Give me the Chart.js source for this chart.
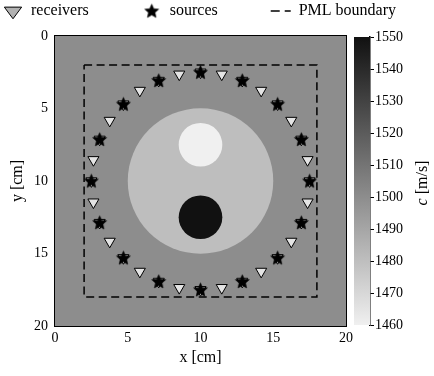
<!DOCTYPE html>
<html>
<head>
<meta charset="utf-8">
<script src="https://cdn.jsdelivr.net/npm/chart.js@4/dist/chart.umd.min.js"></script>
<style>
html, body { margin: 0; padding: 0; background: #ffffff; }
#wrap { position: relative; width: 434px; height: 376px; }
#main { position: absolute; left: 0; top: 0; }
#cbar { position: absolute; left: 340px; top: 0; }
</style>
</head>
<body>
<div id="wrap">
  <canvas id="main" width="434" height="376"></canvas>
  <canvas id="cbar" width="94" height="376"></canvas>
</div>
<script>
// ---------------- data ----------------
const receiverX = [10, 11.46, 12.87, 14.17, 15.3, 16.24, 16.93, 17.36, 17.5, 17.36, 16.93, 16.24, 15.3, 14.17, 12.87, 11.46,
                   10, 8.54, 7.13, 5.83, 4.7, 3.76, 3.07, 2.64, 2.5, 2.64, 3.07, 3.76, 4.7, 5.83, 7.13, 8.54];
const receiverY = [2.5, 2.64, 3.07, 3.76, 4.7, 5.83, 7.13, 8.54, 10, 11.46, 12.87, 14.17, 15.3, 16.24, 16.93, 17.36,
                   17.5, 17.36, 16.93, 16.24, 15.3, 14.17, 12.87, 11.46, 10, 8.54, 7.13, 5.83, 4.7, 3.76, 3.07, 2.64];
const sourceX = [10, 12.87, 15.3, 16.93, 17.5, 16.93, 15.3, 12.87, 10, 7.13, 4.7, 3.07, 2.5, 3.07, 4.7, 7.13];
const sourceY = [2.5, 3.07, 4.7, 7.13, 10, 12.87, 15.3, 16.93, 17.5, 16.93, 15.3, 12.87, 10, 7.13, 4.7, 3.07];
const pmlX = [2, 18, 18, 2, 2];
const pmlY = [2, 2, 18, 18, 2];
const backgroundSpeed = 1500;
const inclusionX = [10, 10, 10];
const inclusionY = [10, 7.5, 12.5];
const inclusionRadius = [5, 1.5, 1.5];
const inclusionSpeed = [1480, 1460, 1550];
const axisTicks = [0, 5, 10, 15, 20];
const speedTicks = [1460, 1470, 1480, 1490, 1500, 1510, 1520, 1530, 1540, 1550];
const speedMin = 1460;
const speedMax = 1550;
const legendLabels = ['receivers', 'sources', 'PML boundary'];

// ---------------- helpers ----------------
const FONT = "'Liberation Serif', 'DejaVu Serif', serif";
function gray(v) {
  const t = Math.min(1, Math.max(0, (v - speedMin) / (speedMax - speedMin)));
  const g = Math.round(240 - t * (240 - 17));
  return 'rgb(' + g + ',' + g + ',' + g + ')';
}
function makeStar(R, r, color) {
  const s = Math.ceil(R * 2 + 2);
  const c = document.createElement('canvas');
  c.width = s; c.height = s;
  const g = c.getContext('2d');
  g.beginPath();
  for (let i = 0; i < 10; i++) {
    const a = -Math.PI / 2 + i * Math.PI / 5;
    const rad = (i % 2) ? r : R;
    g.lineTo(s / 2 + rad * Math.cos(a), s / 2 + rad * Math.sin(a) + 0.5);
  }
  g.closePath();
  g.fillStyle = color; g.fill();
  g.lineWidth = 0.6; g.strokeStyle = color; g.stroke();
  return c;
}
const starImg = makeStar(7.3, 3.4, '#000000');

const receivers = receiverX.map((x, i) => ({ x: x, y: receiverY[i] }));
const sources = sourceX.map((x, i) => ({ x: x, y: sourceY[i] }));
const pml = pmlX.map((x, i) => ({ x: x, y: pmlY[i] }));
const inclusions = inclusionX.map((x, i) => ({ x: x, y: inclusionY[i], rad: inclusionRadius[i], speed: inclusionSpeed[i] }));

const mediumPlugin = {
  id: 'medium',
  beforeDatasetsDraw(chart) {
    const { ctx, scales: { x, y } } = chart;
    const x0 = x.getPixelForValue(0), x1 = x.getPixelForValue(20);
    const y0 = y.getPixelForValue(0), y1 = y.getPixelForValue(20);
    ctx.save();
    ctx.fillStyle = gray(backgroundSpeed);
    ctx.fillRect(Math.min(x0, x1), Math.min(y0, y1), Math.abs(x1 - x0), Math.abs(y1 - y0));
    ctx.restore();
  },
  afterDatasetsDraw(chart) {
    const { ctx, chartArea: a } = chart;
    ctx.save();
    ctx.strokeStyle = '#000';
    ctx.lineWidth = 1;
    ctx.strokeRect(a.left - 0.5, a.top - 0.5, a.right - a.left + 1, a.bottom - a.top + 1);
    ctx.restore();
  }
};

const legendTweak = {
  id: 'legendTweak',
  beforeInit(chart) {
    const lg = chart.legend;
    if (!lg) return;
    const fit = lg.fit;
    lg.fit = function () {
      this.maxWidth = 3000;
      fit.call(this);
      this.width = chart.width;
      this.height = 36;
    };
  },
  afterLayout(chart) {
    const lg = chart.legend;
    if (!lg) return;
    const P = lg.options.labels.padding;
    lg.left = 3 - P; lg.right = 3000;
    lg.top = 3 - P; lg.bottom = 36;
    lg.width = lg.right - lg.left; lg.height = lg.bottom - lg.top;
  }
};

new Chart(document.getElementById('main'), {
  type: 'scatter',
  data: {
    datasets: [
      {
        label: legendLabels[1], data: sources, pointStyle: starImg, pointRadius: 7,
        backgroundColor: '#000', borderColor: '#000', order: 1
      },
      {
        label: legendLabels[0], data: receivers, pointStyle: 'triangle', rotation: 180, pointRadius: 6.4,
        backgroundColor: '#e4e4e4', borderColor: '#000', pointBorderWidth: 1, order: 2
      },
      {
        label: legendLabels[2], data: pml, showLine: true, borderColor: '#000', borderWidth: 1.5,
        borderDash: [8, 4.5], pointRadius: 0, fill: false, order: 3
      },
      {
        label: 'medium', data: inclusions, pointStyle: 'circle', borderWidth: 0, pointBorderWidth: 0,
        pointRadius: (c) => {
          if (!c.raw) return 0;
          const s = c.chart.scales.x;
          return Math.abs(s.getPixelForValue(c.raw.rad) - s.getPixelForValue(0));
        },
        backgroundColor: (c) => c.raw ? gray(c.raw.speed) : '#000',
        order: 4
      }
    ]
  },
  options: {
    responsive: false,
    animation: false,
    events: [],
    layout: { padding: { left: 0, right: 88, top: 0, bottom: 0 } },
    scales: {
      x: {
        type: 'linear', min: 0, max: 20,
        afterBuildTicks: (s) => { s.ticks = axisTicks.map(v => ({ value: v })); },
        afterFit: (s) => { s.height = 50; },
        grid: { display: false, drawTicks: false },
        border: { display: false },
        ticks: { font: { family: FONT, size: 14 }, color: '#000', padding: 4, maxRotation: 0, callback: (v) => String(v) },
        title: { display: true, text: 'x [cm]', font: { family: FONT, size: 16 }, color: '#000', padding: { top: 0, bottom: 9 } }
      },
      y: {
        type: 'linear', min: 0, max: 20, reverse: true,
        afterBuildTicks: (s) => { s.ticks = axisTicks.map(v => ({ value: v })); },
        afterFit: (s) => { s.width = 55; },
        grid: { display: false, drawTicks: false },
        border: { display: false },
        ticks: { font: { family: FONT, size: 14 }, color: '#000', padding: 7, callback: (v) => String(v) },
        title: { display: true, text: 'y [cm]', font: { family: FONT, size: 16 }, color: '#000', padding: { top: 8, bottom: 0 } }
      }
    },
    plugins: {
      tooltip: { enabled: false },
      legend: {
        display: true, position: 'top', align: 'start',
        labels: {
          padding: 53, usePointStyle: true, pointStyleWidth: 20, boxHeight: 11,
          font: { family: FONT, size: 16 }, color: '#000',
          generateLabels: () => [
            { text: legendLabels[0], pointStyle: 'triangle', rotation: 180, fillStyle: '#b2b2b2', strokeStyle: '#000',
              lineWidth: 1, hidden: false, datasetIndex: 1, fontColor: '#000' },
            { text: legendLabels[1], pointStyle: starImg, rotation: 0, fillStyle: '#000', strokeStyle: '#000',
              lineWidth: 0, hidden: false, datasetIndex: 0, fontColor: '#000' },
            { text: legendLabels[2], pointStyle: 'line', rotation: 0, fillStyle: '#000', strokeStyle: '#000',
              lineWidth: 1.5, lineDash: [9, 5], hidden: false, datasetIndex: 2, fontColor: '#000' }
          ]
        }
      }
    }
  },
  plugins: [mediumPlugin, legendTweak]
});

// ---------------- colour bar ----------------
const cbarTitle = {
  id: 'cbarTitle',
  afterDraw(chart) {
    const ctx = chart.ctx;
    const a = chart.chartArea;
    ctx.save();
    ctx.translate(83, (a.top + a.bottom) / 2 + 2);
    ctx.rotate(-Math.PI / 2);
    ctx.fillStyle = '#000';
    ctx.textBaseline = 'middle';
    ctx.textAlign = 'left';
    const fi = 'italic 16px ' + FONT, fn = '16px ' + FONT;
    ctx.font = fi; const w1 = ctx.measureText('c').width;
    ctx.font = fn; const w2 = ctx.measureText(' [m/s]').width;
    const x0 = -(w1 + w2) / 2;
    ctx.font = fi; ctx.fillText('c', x0, 0);
    ctx.font = fn; ctx.fillText(' [m/s]', x0 + w1, 0);
    ctx.restore();
  }
};

new Chart(document.getElementById('cbar'), {
  type: 'bar',
  data: {
    labels: ['c'],
    datasets: [{
      data: [[speedMin, speedMax]],
      barPercentage: 1, categoryPercentage: 1, borderWidth: 0,
      backgroundColor: (c) => {
        const ch = c.chart;
        if (!ch.chartArea || !ch.scales.y) return gray(1500);
        const y = ch.scales.y;
        const g = ch.ctx.createLinearGradient(0, y.getPixelForValue(speedMin), 0, y.getPixelForValue(speedMax));
        g.addColorStop(0, gray(speedMin));
        g.addColorStop(1, gray(speedMax));
        return g;
      }
    }]
  },
  options: {
    responsive: false,
    animation: false,
    events: [],
    layout: { padding: { left: 14, right: 0, top: 37, bottom: 51 } },
    scales: {
      x: { display: false },
      y: {
        position: 'right', min: speedMin, max: speedMax,
        afterBuildTicks: (s) => { s.ticks = speedTicks.map(v => ({ value: v })); },
        afterFit: (s) => { s.width = 64; },
        grid: { display: true, drawOnChartArea: false, drawTicks: true, tickLength: 4, color: '#000', lineWidth: 1 },
        border: { display: true, color: '#000', width: 1.5 },
        ticks: { font: { family: FONT, size: 14 }, color: '#000', padding: 1, callback: (v) => String(v) }
      }
    },
    plugins: { legend: { display: false }, tooltip: { enabled: false } }
  },
  plugins: [cbarTitle]
});
</script>
</body>
</html>
